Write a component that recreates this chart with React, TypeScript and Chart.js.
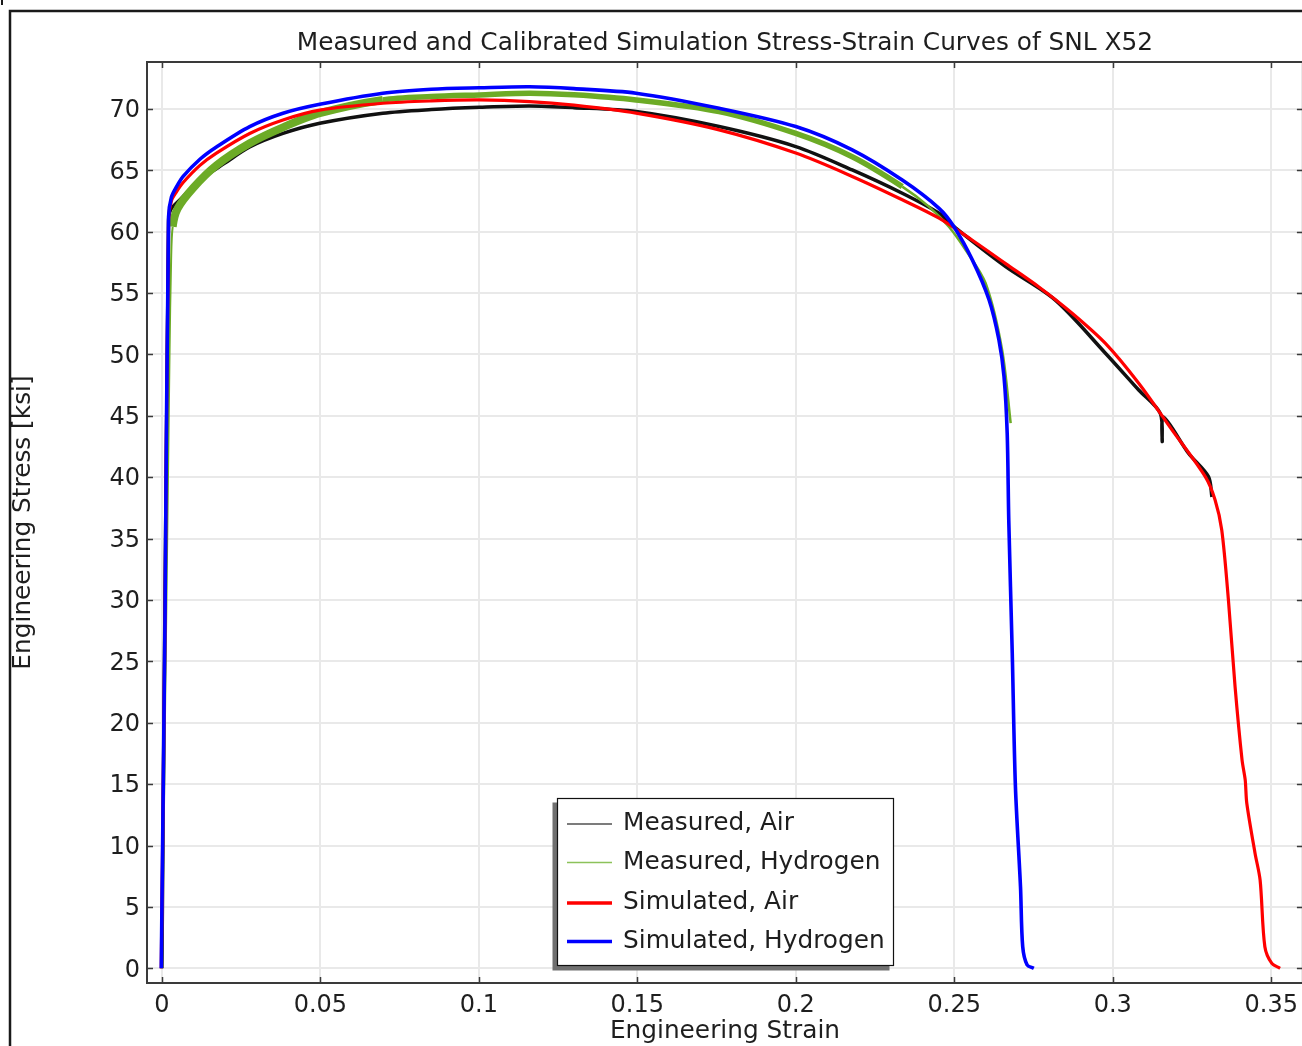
import React, { useEffect, useRef } from "react";
import { Chart, registerables } from "chart.js";

Chart.register(...registerables);

const TITLE = "Measured and Calibrated Simulation Stress-Strain Curves of SNL X52";
const X_TITLE = "Engineering Strain";
const Y_TITLE = "Engineering Stress [ksi]";

const X_MIN = -0.0047;
const X_MAX = 0.36;
const Y_MIN = -1.2;
const Y_MAX = 73.82;

const X_TICKS = [0, 0.05, 0.1, 0.15, 0.2, 0.25, 0.3, 0.35];
const X_TICK_LABELS = ["0", "0.05", "0.1", "0.15", "0.2", "0.25", "0.3", "0.35"];
const Y_TICKS = [0, 5, 10, 15, 20, 25, 30, 35, 40, 45, 50, 55, 60, 65, 70];
const Y_TICK_LABELS = ["0", "5", "10", "15", "20", "25", "30", "35", "40", "45", "50", "55", "60", "65", "70"];

const SERIES_NAMES = ["Measured, Air", "Measured, Hydrogen", "Simulated, Air", "Simulated, Hydrogen"];

const MEAS_AIR_STRAIN = [0, 0.0021, 0.0028, 0.0057, 0.012, 0.02, 0.0277, 0.0382, 0.0498, 0.0697, 0.085, 0.1002, 0.116, 0.13, 0.1496, 0.1758, 0.2, 0.2178, 0.2336, 0.2452, 0.2504, 0.2662, 0.2818, 0.2977, 0.3082, 0.3150, 0.3156, 0.3160, 0.3239, 0.3302, 0.3313];
const MEAS_AIR_STRESS = [0, 60.8, 61.8, 62.6, 64.2, 65.6, 66.9, 68.0, 68.83, 69.65, 69.95, 70.13, 70.24, 70.1, 69.78, 68.56, 66.93, 65.03, 63.13, 61.5, 60.3, 57.15, 54.44, 50.1, 47.1, 45.2, 42.9, 44.9, 41.95, 40.05, 38.4];

const MEAS_H_STRAIN = [0, 0.0024, 0.0029, 0.0034, 0.005, 0.01, 0.0172, 0.0277, 0.0382, 0.0498, 0.0697, 0.085, 0.1002, 0.116, 0.13, 0.1496, 0.1758, 0.2, 0.2178, 0.2336, 0.242, 0.2483, 0.2536, 0.2599, 0.2651, 0.2678];
const MEAS_H_STRESS = [0, 50.0, 57.6, 60.4, 61.9, 63.6, 65.4, 67.2, 68.5, 69.65, 70.73, 71.0, 71.14, 71.28, 71.15, 70.73, 69.78, 68.0, 66.1, 63.67, 62.04, 60.4, 58.5, 55.8, 50.37, 44.4];

const SIM_AIR_STRAIN = [-0.0002, 0.001, 0.0021, 0.003, 0.0045, 0.0067, 0.012, 0.0172, 0.0277, 0.0382, 0.0498, 0.0697, 0.085, 0.1002, 0.116, 0.13, 0.1496, 0.1758, 0.2, 0.2178, 0.2336, 0.2452, 0.2557, 0.2662, 0.2767, 0.2872, 0.2977, 0.3082, 0.3187, 0.3292, 0.3323, 0.3344, 0.3365, 0.3386, 0.3408, 0.3418, 0.3423, 0.3449, 0.3465, 0.348, 0.3502, 0.3528];
const SIM_AIR_STRESS = [0, 28.8, 61.0, 62.5, 63.2, 64.0, 65.4, 66.4, 68.0, 69.1, 69.9, 70.46, 70.65, 70.73, 70.6, 70.3, 69.65, 68.29, 66.4, 64.5, 62.6, 61.1, 59.3, 57.4, 55.5, 53.36, 50.9, 47.65, 43.85, 40.05, 38.15, 35.7, 30.0, 22.94, 16.97, 15.34, 13.44, 9.37, 7.19, 1.76, 0.4, 0];

const SIM_H_STRAIN = [-0.0002, 0.001, 0.0021, 0.003, 0.0045, 0.0067, 0.012, 0.0172, 0.0277, 0.0382, 0.0498, 0.0697, 0.085, 0.1002, 0.116, 0.13, 0.1496, 0.1758, 0.2, 0.2178, 0.2336, 0.2452, 0.2499, 0.2557, 0.261, 0.2641, 0.2657, 0.2667, 0.2672, 0.2683, 0.2693, 0.2709, 0.2716, 0.273, 0.2751];
const SIM_H_STRESS = [0, 29.0, 61.2, 62.8, 63.6, 64.5, 65.9, 66.9, 68.56, 69.65, 70.38, 71.28, 71.6, 71.72, 71.8, 71.65, 71.28, 70.05, 68.56, 66.66, 64.2, 61.9, 60.4, 57.7, 54.44, 51.18, 48.2, 43.6, 36.5, 25.66, 14.8, 6.65, 1.76, 0.27, 0];

const FONT = '"DejaVu Sans", Verdana, sans-serif';
const TEXT_COLOR = "#1e1e1e";

const LEGEND_COLORS = ["#505050", "#8cc25a", "#ff0000", "#0000ff"];
const LEGEND_WIDTHS = [1.5, 1.5, 3.5, 3.5];

function pts(xs: number[], ys: number[]) {
  return xs.map((x, i) => ({ x, y: ys[i] }));
}

const decorPlugin = {
  id: "decor",
  beforeDraw(chart: any) {
    const ctx = chart.ctx;
    ctx.save();
    ctx.fillStyle = "#ffffff";
    ctx.fillRect(0, 0, chart.width, chart.height);
    ctx.restore();
  },
  beforeDatasetsDraw(chart: any) {
    const { ctx, chartArea: a, scales } = chart;
    ctx.save();
    ctx.strokeStyle = "#3a3a3a";
    ctx.lineWidth = 1.5;
    const tl = 6;
    ctx.beginPath();
    X_TICKS.forEach((v) => {
      const px = Math.round(scales.x.getPixelForValue(v)) + 0.5;
      ctx.moveTo(px, a.top);
      ctx.lineTo(px, a.top + tl);
      ctx.moveTo(px, a.bottom);
      ctx.lineTo(px, a.bottom - tl);
    });
    Y_TICKS.forEach((v) => {
      const py = Math.round(scales.y.getPixelForValue(v)) + 0.5;
      ctx.moveTo(a.left, py);
      ctx.lineTo(a.left + tl, py);
      ctx.moveTo(a.right, py);
      ctx.lineTo(a.right - tl, py);
    });
    ctx.stroke();
    ctx.lineWidth = 2;
    ctx.strokeStyle = "#3a3a3a";
    ctx.strokeRect(a.left, a.top, a.right - a.left, a.bottom - a.top);
    ctx.restore();
  },
  afterDraw(chart: any) {
    const ctx = chart.ctx;
    ctx.save();
    const L = 557, T = 798, R = 894, B = 966;
    ctx.fillStyle = "#707070";
    ctx.fillRect(L - 4.5, T + 4.5, R - L, B - T);
    ctx.fillStyle = "#ffffff";
    ctx.fillRect(L, T, R - L, B - T);
    ctx.strokeStyle = "#111111";
    ctx.lineWidth = 1.2;
    ctx.strokeRect(L + 0.5, T + 0.5, R - L - 1, B - T - 1);
    const rows = [824, 862.5, 903, 941.5];
    ctx.font = `24.8px ${FONT}`;
    ctx.textBaseline = "middle";
    ctx.textAlign = "left";
    chart.data.datasets.forEach((ds: any, i: number) => {
      const y = rows[i];
      ctx.strokeStyle = LEGEND_COLORS[i];
      ctx.lineWidth = LEGEND_WIDTHS[i];
      ctx.beginPath();
      ctx.moveTo(567, y);
      ctx.lineTo(612, y);
      ctx.stroke();
      ctx.fillStyle = TEXT_COLOR;
      ctx.fillText(ds.label, 623, y);
    });
    ctx.strokeStyle = "#1a1a1a";
    ctx.lineWidth = 2.5;
    ctx.beginPath();
    ctx.moveTo(10, chart.height);
    ctx.lineTo(10, 11);
    ctx.lineTo(chart.width, 11);
    ctx.stroke();
    ctx.lineWidth = 2;
    ctx.beginPath();
    ctx.moveTo(2, 0);
    ctx.lineTo(2, 5);
    ctx.stroke();
    ctx.restore();
  },
};

export default function App() {
  const ref = useRef<HTMLCanvasElement | null>(null);

  useEffect(() => {
    if (!ref.current) return;
    const chart = new Chart(ref.current, {
      type: "line",
      data: {
        datasets: [
          {
            label: SERIES_NAMES[0],
            data: pts(MEAS_AIR_STRAIN, MEAS_AIR_STRESS),
            borderColor: "#111111",
            borderWidth: 3.5,
            pointRadius: 0,
            tension: 0.3,
            order: 4,
          },
          {
            label: SERIES_NAMES[1],
            data: pts(MEAS_H_STRAIN, MEAS_H_STRESS),
            borderColor: "#6cab26",
            borderWidth: 5,
            pointRadius: 0,
            tension: 0.3,
            order: 3,
            segment: {
              borderWidth: (c: any) => {
                const x = c.p0.parsed.x;
                if (x < 0.0034) return 2;
                if (x < 0.06) return 8;
                if (x < 0.22) return 5.5;
                return 2.5;
              },
            },
          },
          {
            label: SERIES_NAMES[2],
            data: pts(SIM_AIR_STRAIN, SIM_AIR_STRESS),
            borderColor: "#ff0000",
            borderWidth: 3.2,
            pointRadius: 0,
            tension: 0.3,
            order: 2,
          },
          {
            label: SERIES_NAMES[3],
            data: pts(SIM_H_STRAIN, SIM_H_STRESS),
            borderColor: "#0000ff",
            borderWidth: 3.6,
            pointRadius: 0,
            tension: 0.3,
            order: 1,
          },
        ],
      },
      options: {
        animation: false,
        responsive: false,
        devicePixelRatio: 1,
        parsing: false as any,
        normalized: true,
        layout: { padding: { left: 0, right: 2, top: 0, bottom: 0 } },
        plugins: {
          legend: { display: false },
          tooltip: { enabled: false },
          title: {
            display: true,
            text: TITLE,
            fullSize: false,
            color: TEXT_COLOR,
            font: { family: FONT, size: 24.8, weight: "normal", lineHeight: 1.2 },
            padding: { top: 28.5, bottom: 3.74 },
          },
        },
        scales: {
          x: {
            type: "linear",
            min: X_MIN,
            max: X_MAX,
            afterBuildTicks: (s: any) => {
              s.ticks = X_TICKS.map((v) => ({ value: v }));
            },
            afterFit: (s: any) => {
              s.height = 63;
            },
            grid: { color: "#e9e9e9", lineWidth: 2, drawTicks: false },
            border: { display: false },
            ticks: {
              padding: 8,
              color: TEXT_COLOR,
              maxRotation: 0,
              autoSkip: false,
              font: { family: FONT, size: 24 },
              callback: (v: any) => {
                const i = X_TICKS.findIndex((t) => Math.abs(t - v) < 1e-9);
                return i >= 0 ? X_TICK_LABELS[i] : "";
              },
            },
            title: {
              display: true,
              text: X_TITLE,
              color: TEXT_COLOR,
              font: { family: FONT, size: 24.8, lineHeight: 1.2 },
              padding: { top: 0, bottom: 0 },
            },
          },
          y: {
            type: "linear",
            min: Y_MIN,
            max: Y_MAX,
            afterBuildTicks: (s: any) => {
              s.ticks = Y_TICKS.map((v) => ({ value: v }));
            },
            afterFit: (s: any) => {
              s.width = 147;
            },
            grid: { color: "#e9e9e9", lineWidth: 2, drawTicks: false },
            border: { display: false },
            ticks: {
              padding: 7,
              labelOffset: 2,
              color: TEXT_COLOR,
              autoSkip: false,
              font: { family: FONT, size: 24 },
              callback: (v: any) => {
                const i = Y_TICKS.findIndex((t) => Math.abs(t - v) < 1e-9);
                return i >= 0 ? Y_TICK_LABELS[i] : "";
              },
            },
            title: {
              display: true,
              text: Y_TITLE,
              color: TEXT_COLOR,
              font: { family: FONT, size: 24.8, lineHeight: 1.2 },
              padding: { top: 8.5, bottom: 0 },
            },
          },
        },
      },
      plugins: [decorPlugin],
    } as any);
    return () => chart.destroy();
  }, []);

  return (
    <div
      style={{
        position: "fixed",
        left: 0,
        top: 0,
        width: 1302,
        height: 1046,
        overflow: "hidden",
        background: "#ffffff",
      }}
    >
      <canvas ref={ref} width={1306} height={1046} style={{ display: "block", width: 1306, height: 1046 }} />
    </div>
  );
}
